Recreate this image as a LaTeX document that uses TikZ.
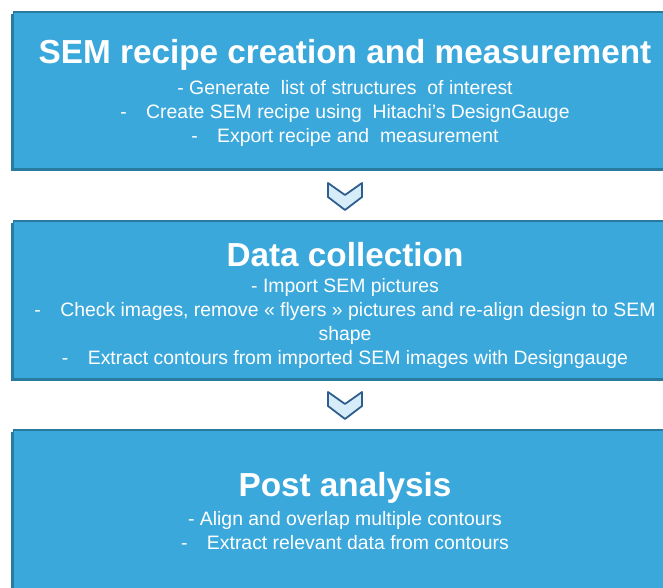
\documentclass[tikz,border=0pt]{standalone}
\usepackage{fontspec}
\setmainfont{Liberation Sans}
\definecolor{boxblue}{RGB}{59,168,220}
\definecolor{boxedge}{RGB}{40,122,158}
\definecolor{chevfill}{RGB}{214,236,248}
\definecolor{chevedge}{RGB}{46,94,142}
\tikzset{
  panel/.style={fill=boxblue,draw=boxedge,line width=1.6pt},
  panelshadow/.style={fill=boxedge,draw=none},
  titletext/.style={text=white,font=\fontsize{33.3}{38}\selectfont\bfseries,inner sep=0pt,anchor=center},
  bodytext/.style={text=white,font=\fontsize{19.4}{24}\selectfont,align=center,inner sep=0pt,anchor=north},
  chevron/.style={fill=chevfill,draw=chevedge,line width=1.8pt,line join=round}
}
\begin{document}
\begin{tikzpicture}[x=1pt,y=-1pt]
\useasboundingbox (0,0) rectangle (663,587);
\clip (0,0) rectangle (663,587);
\fill[white] (0,0) rectangle (663,587);
% boxes
\fill[panelshadow] (11,14) rectangle (677,171);
\draw[panel] (13.5,12) rectangle (679,168.5);
\fill[panelshadow] (11,223) rectangle (677,381);
\draw[panel] (13.5,221) rectangle (679,378.5);
\fill[panelshadow] (11,432) rectangle (677,600);
\draw[panel] (13.5,430) rectangle (679,598);
% chevrons
\draw[chevron] (328,183) -- (345,195) -- (362,183) -- (362,197) -- (345,210) -- (328,197) -- cycle;
\draw[chevron] (328,392) -- (345,404) -- (362,392) -- (362,406) -- (345,419) -- (328,406) -- cycle;
% texts
\node[titletext] (t1) at (345,55) {SEM recipe creation and measurement};
\node[bodytext] (b1) at (345,80) {- Generate\ \ list of structures\ \ of interest\\
-\hspace{1em}Create SEM recipe using\ \ Hitachi’s DesignGauge\\
-\hspace{1em}Export recipe and\ \ measurement};
\node[titletext] (t2) at (345,255) {Data collection};
\node[bodytext] (b2) at (345,278) {- Import SEM pictures\\
-\hspace{1em}Check images, remove « flyers » pictures and re-align design to SEM\\
shape\\
-\hspace{1em}Extract contours from imported SEM images with Designgauge};
\node[titletext] (t3) at (345,488) {Post analysis};
\node[bodytext] (b3) at (345,511) {- Align and overlap multiple contours\\
-\hspace{1em}Extract relevant data from contours};
\end{tikzpicture}
\end{document}
